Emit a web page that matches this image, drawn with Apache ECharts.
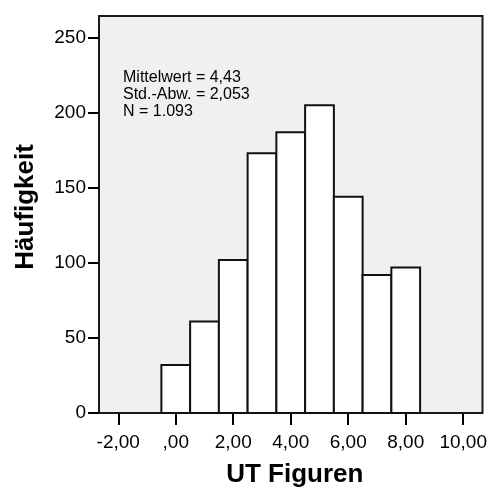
<!DOCTYPE html>
<html>
<head>
<meta charset="utf-8">
<script src="https://cdn.jsdelivr.net/npm/echarts@6/dist/echarts.min.js"></script>
<style>
  html, body { margin: 0; padding: 0; background: #fff; }
  #chart { width: 490px; height: 497px; }
</style>
</head>
<body>
<div id="chart"></div>
<script>
// histogram bins (centre of each bin) and frequencies
const binCenters = [0, 1, 2, 3, 4, 5, 6, 7, 8];
const binWidth = 1;
const counts = [32, 61, 102, 173, 187, 205, 144, 92, 97];

const xTicks = [-2, 0, 2, 4, 6, 8, 10];
const xTickLabels = ['-2,00', ',00', '2,00', '4,00', '6,00', '8,00', '10,00'];
const yTicks = [0, 50, 100, 150, 200, 250];

const statsLines = ['Mittelwert = 4,43', 'Std.-Abw. = 2,053', 'N = 1.093'];

const font = 'Liberation Sans, Arial, sans-serif';

const chart = echarts.init(document.getElementById('chart'));

const histData = binCenters.map((c, i) => [c - binWidth / 2, c + binWidth / 2, counts[i]]);

chart.setOption({
    animation: false,
    backgroundColor: '#fff',
    grid: {
        left: 99, right: 7, top: 16, bottom: 84,
        show: true,
        backgroundColor: '#f0f0f0',
        borderColor: '#1a1a1a',
        borderWidth: 2
    },
    xAxis: {
        type: 'value',
        min: -2.67,
        max: 10.67,
        name: 'UT Figuren',
        nameLocation: 'middle',
        nameGap: 49,
        nameTextStyle: { fontFamily: font, fontSize: 26, fontWeight: 'bold', color: '#000', padding: [0, 0, 0, 8] },
        axisLine: { show: false, onZero: false },
        splitLine: { show: false },
        axisTick: {
            show: true, length: 12, customValues: xTicks,
            lineStyle: { color: '#000', width: 2 }
        },
        axisLabel: {
            customValues: xTicks,
            margin: 20,
            fontFamily: font, fontSize: 19, color: '#000',
            formatter: v => xTickLabels[xTicks.indexOf(v)]
        }
    },
    yAxis: {
        type: 'value',
        min: 0,
        max: 264.5,
        axisLine: { show: false, onZero: false },
        splitLine: { show: false },
        axisTick: {
            show: true, length: 11, customValues: yTicks,
            lineStyle: { color: '#000', width: 2 }
        },
        axisLabel: {
            customValues: yTicks,
            margin: 13,
            fontFamily: font, fontSize: 19, color: '#000'
        }
    },
    graphic: [{
        type: 'text',
        left: 123,
        top: 69,
        style: {
            text: statsLines.join('\n'),
            fontFamily: font,
            fontSize: 16,
            lineHeight: 17,
            fill: '#000'
        }
    }, {
        type: 'text',
        x: 26,
        y: 207,
        rotation: Math.PI / 2,
        style: {
            text: 'Häufigkeit',
            fontFamily: font,
            fontSize: 26,
            fontWeight: 'bold',
            fill: '#000',
            align: 'center',
            verticalAlign: 'middle'
        }
    }],
    series: [{
        type: 'custom',
        data: histData,
        encode: { x: [0, 1], y: 2 },
        renderItem: (params, api) => {
            const top = api.coord([api.value(0), api.value(2)]);
            const bottom = api.coord([api.value(1), 0]);
            return {
                type: 'rect',
                shape: { x: top[0], y: top[1], width: bottom[0] - top[0], height: bottom[1] - top[1] },
                style: { fill: '#fff', stroke: '#111', lineWidth: 2 }
            };
        }
    }]
});
</script>
</body>
</html>
